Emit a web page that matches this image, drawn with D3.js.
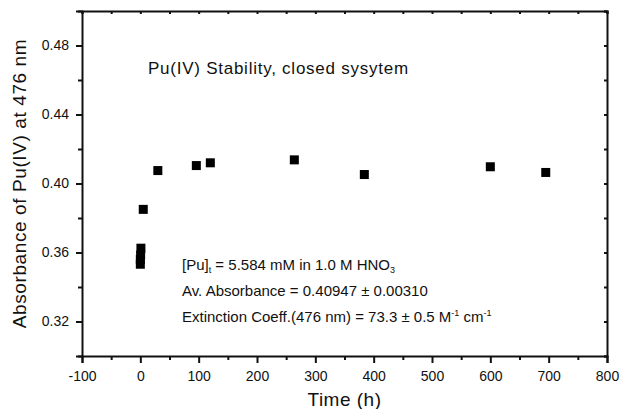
<!DOCTYPE html>
<html lang="en">
    <head>
        <meta charset="utf-8">
        <title>Pu(IV) Stability</title>
        <script src="https://cdn.jsdelivr.net/npm/d3@7/dist/d3.min.js"></script>
        <style type="text/css">
            body { margin: 0; background: #fff; }
            text { font-family: "Liberation Sans", Arial, sans-serif; fill: #111; }
        </style>
    </head>
    <body>
        <script type="text/javascript">
            // data
            var times = [0, 0, 0.5, 1, 5, 30, 96, 120, 264, 384, 600, 695];
            var absorb = [0.3532, 0.356, 0.3585, 0.3625, 0.385, 0.4075, 0.4104, 0.412, 0.4137, 0.4052, 0.4097, 0.4064];
            var xTicks = [-100, 0, 100, 200, 300, 400, 500, 600, 700, 800];
            var yTicks = [0.32, 0.36, 0.40, 0.44, 0.48];

            var w = 622;
            var h = 409;
            // plot frame (note: "top" is reserved on window, so p-prefixed names)
            var pLeft = 82, pRight = 607, pTop = 11, pBottom = 356;

            var svg = d3.select('body').append('svg')
                        .attr('width', w)
                        .attr('height', h);

            var xScale = d3.scaleLinear().domain([-100, 800]).range([pLeft, pRight]);
            var yScale = d3.scaleLinear().domain([0.30, 0.50]).range([pBottom, pTop]);

            // minor ticks halfway between the majors
            var xMinor = d3.range(-50, 800, 100);
            var yMinor = d3.range(0.30, 0.5001, 0.04);

            // bottom axis
            svg.append('g')
               .attr('transform', 'translate(0,' + pBottom + ')')
               .call(d3.axisBottom(xScale).tickValues(xMinor).tickSize(4).tickFormat(''))
               .call(function(g) { g.select('.domain').remove(); });
            var bx = svg.append('g')
               .attr('transform', 'translate(0,' + pBottom + ')')
               .call(d3.axisBottom(xScale).tickValues(xTicks).tickSize(7).tickPadding(6)
                       .tickFormat(function(d) { return String(d); }));
            bx.selectAll('text').attr('font-size', '14px').attr('dy', '0.85em');

            // left axis
            svg.append('g')
               .attr('transform', 'translate(' + pLeft + ',0)')
               .call(d3.axisLeft(yScale).tickValues(yMinor).tickSize(4).tickFormat(''))
               .call(function(g) { g.select('.domain').remove(); });
            var ly = svg.append('g')
               .attr('transform', 'translate(' + pLeft + ',0)')
               .call(d3.axisLeft(yScale).tickValues(yTicks).tickSize(6).tickPadding(7).tickFormat(d3.format('.2f')));
            ly.selectAll('text').attr('font-size', '14px');

            // top and right: small inward ticks
            svg.append('g')
               .attr('transform', 'translate(0,' + pTop + ')')
               .call(d3.axisTop(xScale).tickValues(d3.range(-100, 801, 50)).tickSize(-3).tickFormat(''));
            svg.append('g')
               .attr('transform', 'translate(' + pRight + ',0)')
               .call(d3.axisRight(yScale).tickValues(d3.range(0.30, 0.5001, 0.02)).tickSize(-3).tickFormat(''));

            svg.selectAll('.domain, .tick line')
               .attr('stroke', '#111')
               .attr('stroke-width', 2);
            svg.selectAll('.tick text').attr('fill', '#111');

            // data squares
            var sq = 9;
            svg.selectAll('rect.pt')
               .data(times)
               .enter()
               .append('rect')
               .attr('class', 'pt')
               .attr('x', function(d) { return xScale(d) - sq / 2; })
               .attr('y', function(d, i) { return yScale(absorb[i]) - sq / 2; })
               .attr('width', sq)
               .attr('height', sq)
               .attr('fill', '#000');

            // axis titles
            svg.append('text')
               .attr('x', (pLeft + pRight) / 2)
               .attr('y', 406)
               .attr('text-anchor', 'middle')
               .attr('font-size', '19px')
               .attr('letter-spacing', '0.5px')
               .text('Time (h)');

            svg.append('text')
               .attr('transform', 'translate(26,' + ((pTop + pBottom) / 2) + ') rotate(-90)')
               .attr('text-anchor', 'middle')
               .attr('font-size', '19px')
               .attr('letter-spacing', '0.6px')
               .text('Absorbance of Pu(IV) at 476 nm');

            // annotations
            svg.append('text')
               .attr('x', 148)
               .attr('y', 74)
               .attr('font-size', '17px')
               .attr('letter-spacing', '0.75px')
               .text('Pu(IV) Stability, closed sysytem');

            var t1 = svg.append('text').attr('x', 182).attr('y', 270).attr('font-size', '15px');
            t1.append('tspan').text('[Pu]');
            t1.append('tspan').attr('font-size', '9px').attr('dy', 3).text('t');
            t1.append('tspan').attr('dy', -3).text(' = 5.584 mM in 1.0 M HNO');
            t1.append('tspan').attr('font-size', '9px').attr('dy', 3).text('3');

            svg.append('text').attr('x', 182).attr('y', 296).attr('font-size', '15px')
               .text('Av. Absorbance = 0.40947 \u00b1 0.00310');

            var t3 = svg.append('text').attr('x', 182).attr('y', 322).attr('font-size', '15px');
            t3.append('tspan').text('Extinction Coeff.(476 nm) = 73.3 \u00b1 0.5 M');
            t3.append('tspan').attr('font-size', '9px').attr('dy', -6).text('-1');
            t3.append('tspan').attr('dy', 6).text(' cm');
            t3.append('tspan').attr('font-size', '9px').attr('dy', -6).text('-1');
        </script>
    </body>
</html>
